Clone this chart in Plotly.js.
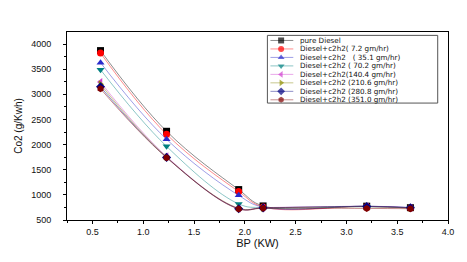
<!DOCTYPE html>
<html>
<head>
<meta charset="utf-8">
<script src="https://cdn.plot.ly/plotly-3.0.1.min.js"></script>
<style>html,body{margin:0;padding:0;background:#fff;}#chart{width:467px;height:262px;}</style>
</head>
<body>
<div id="chart"></div>
<script>
// ---- data ----
const bp = [0.58, 1.23, 1.94, 2.18, 3.2, 3.63];
const pureDiesel = [3870, 2265, 1105, 780, 775, 745];
const c2h2_7_2   = [3820, 2205, 1065, 760, 770, 740];
const c2h2_35_1  = [3630, 2105, 990, 755, 775, 750];
const c2h2_70_2  = [3490, 1965, 820, 745, 765, 740];
const c2h2_140_4 = [3245, 1765, 730, 745, 770, 745];
const c2h2_210_6 = [3200, 1750, 735, 740, 765, 740];
const c2h2_280_8 = [3150, 1745, 725, 740, 770, 745];
const c2h2_351_0 = [3110, 1740, 720, 735, 730, 725];
const seriesNames = [
  "pure Diesel",
  "Diesel+c2h2( 7.2 gm/hr)",
  "Diesel+c2h2\u00a0\u00a0\u00a0( 35.1 gm/hr)",
  "Diesel+c2h2 ( 70.2 gm/hr)",
  "Diesel+c2h2(140.4 gm/hr)",
  "Diesel+c2h2 (210.6 gm/hr)",
  "Diesel+c2h2 (280.8 gm/hr)",
  "Diesel+c2h2 (351.0 gm/hr)"
];
const seriesValues = [pureDiesel, c2h2_7_2, c2h2_35_1, c2h2_70_2, c2h2_140_4, c2h2_210_6, c2h2_280_8, c2h2_351_0];
const xTitle = "BP (KW)";
const yTitle = "Co2 (g/Kwh)";

// ---- styles ----
const markerColors = ["#000000", "#ff0000", "#2a2acc", "#008080", "#d040d0", "#8f8f00", "#000080", "#800000"];
const lineColors = ["rgba(0,0,0,0.45)", "rgba(255,0,0,0.45)", "rgba(40,40,200,0.45)", "rgba(0,128,128,0.45)",
  "rgba(208,64,208,0.45)", "rgba(128,128,0,0.45)", "rgba(0,0,128,0.45)", "rgba(128,0,0,0.45)"];
const symbols = ["square", "circle", "triangle-up", "triangle-down", "triangle-left", "triangle-right", "diamond", "hexagon"];

const traces = [];
seriesValues.forEach((vals, i) => {
  traces.push({
    x: bp, y: vals, type: "scatter", mode: "lines+markers", name: seriesNames[i],
    line: {shape: "spline", smoothing: 1.1, width: 1, color: lineColors[i]},
    marker: {symbol: symbols[i], size: 7, color: markerColors[i], line: {width: 0}},
    showlegend: false, hoverinfo: "skip"
  });
});

// ---- hand-drawn legend (compact, like the original) ----
const legX0 = 0.526, legX1 = 0.973, legTop = 0.982, legBot = 0.622;
const rowTop = 0.955, rowStep = 0.0451;
const sampleX = [0.534, 0.562, 0.594];
const annotations = [];
seriesNames.forEach((name, i) => {
  const yy = rowTop - i * rowStep;
  traces.push({
    x: sampleX, y: [yy, yy, yy], xaxis: "x2", yaxis: "y2", type: "scatter", mode: "lines+markers",
    line: {width: 1, color: lineColors[i]},
    marker: {symbol: symbols[i], size: [0, 6, 0], color: markerColors[i], line: {width: 0}},
    showlegend: false, hoverinfo: "skip"
  });
  annotations.push({
    xref: "paper", yref: "paper", x: 0.608, y: yy, xanchor: "left", yanchor: "middle",
    borderpad: 0, text: name, showarrow: false,
    font: {family: "DejaVu Sans, sans-serif", size: 7.2, color: "#111"}
  });
});

const layout = {
  width: 467, height: 262,
  margin: {l: 67, r: 19, t: 32, b: 42},
  paper_bgcolor: "#fff", plot_bgcolor: "#fff",
  showlegend: false,
  font: {family: "Liberation Sans, Arial, sans-serif", color: "#111"},
  xaxis: {
    range: [0.25, 4.0], dtick: 0.5, tick0: 0, ticks: "outside", ticklen: 3, tickcolor: "#000",
    minor: {dtick: 0.25, ticks: "outside", ticklen: 2, tickcolor: "#000"},
    showline: true, linecolor: "#000", linewidth: 1, mirror: true, showgrid: false, zeroline: false,
    tickformat: ".1f", tickfont: {size: 9},
    title: {text: xTitle, font: {size: 11, family: "Liberation Sans, Arial, sans-serif"}, standoff: 0}
  },
  yaxis: {
    range: [500, 4240], dtick: 500, tick0: 0, ticks: "outside", ticklen: 3, tickcolor: "#000",
    minor: {dtick: 250, ticks: "outside", ticklen: 2, tickcolor: "#000"},
    showline: true, linecolor: "#000", linewidth: 1, mirror: true, showgrid: false, zeroline: false,
    tickfont: {size: 9}, ticklabelstandoff: 10,
    title: {text: yTitle, font: {size: 10}, standoff: 6}
  },
  xaxis2: {overlaying: "x", range: [0, 1], visible: false, fixedrange: true},
  yaxis2: {overlaying: "y", range: [0, 1], visible: false, fixedrange: true},
  shapes: [{type: "rect", xref: "paper", yref: "paper", x0: legX0, x1: legX1, y0: legBot, y1: legTop,
    line: {color: "#555", width: 1}, fillcolor: "rgba(255,255,255,0)"}],
  annotations: annotations
};

Plotly.newPlot("chart", traces, layout, {staticPlot: true, displayModeBar: false});
</script>
</body>
</html>
